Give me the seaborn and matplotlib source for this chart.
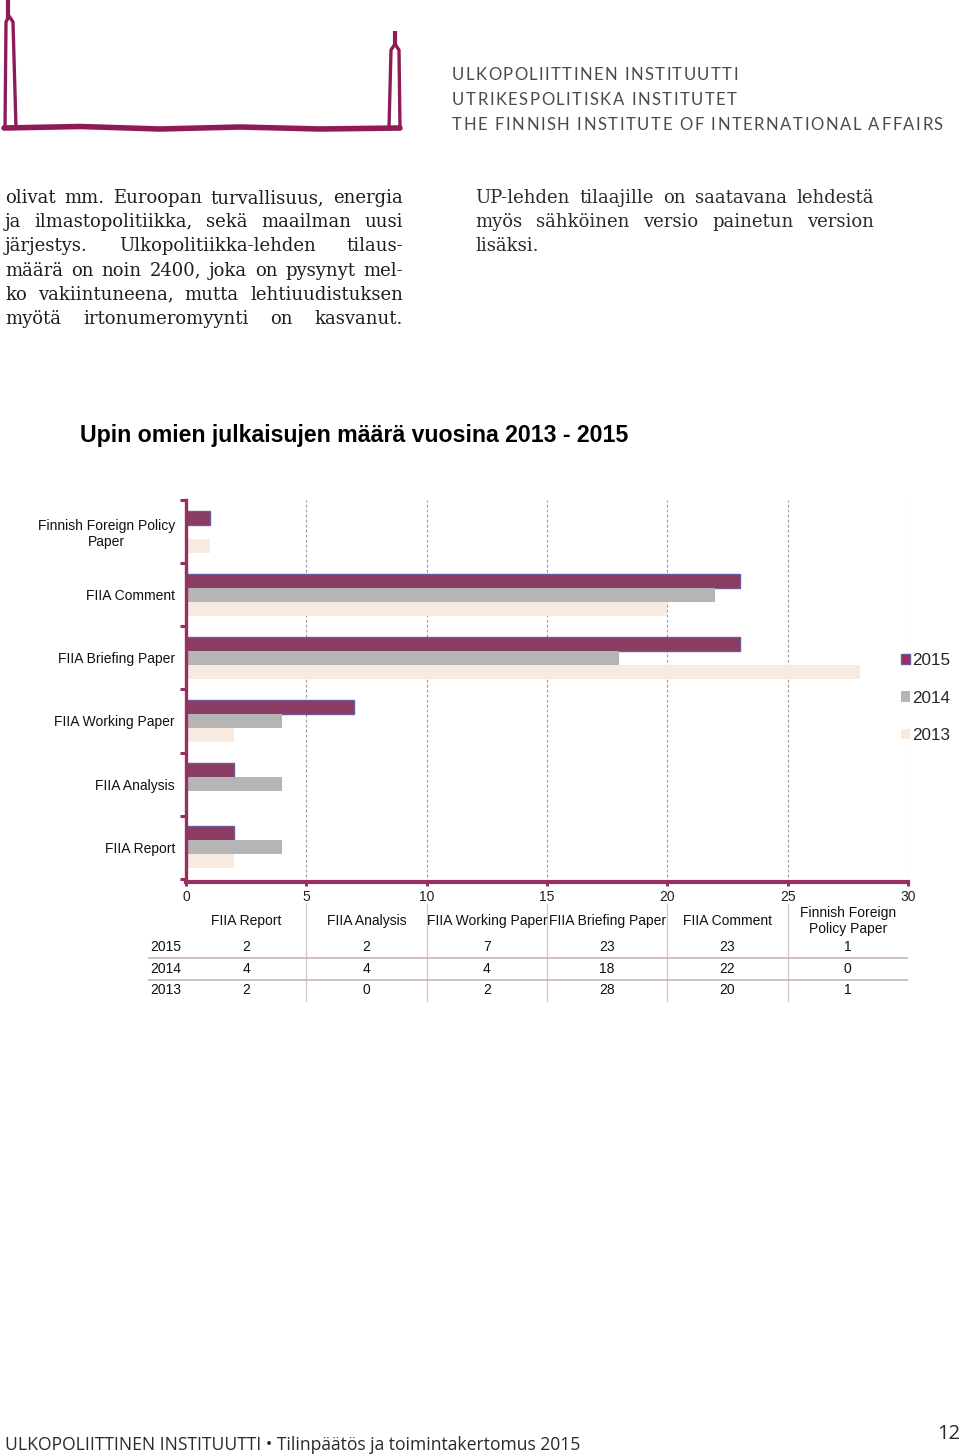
import matplotlib
matplotlib.use("Agg")
import matplotlib.pyplot as plt
from matplotlib.font_manager import FontProperties
from matplotlib.patches import Patch
import seaborn as sns
import pandas as pd

# ---------------- data ----------------
categories = ["FIIA Report", "FIIA Analysis", "FIIA Working Paper",
              "FIIA Briefing Paper", "FIIA Comment", "Finnish Foreign Policy Paper"]
chart_labels = ["FIIA Report", "FIIA Analysis", "FIIA Working Paper",
                "FIIA Briefing Paper", "FIIA Comment", "Finnish Foreign Policy\nPaper"]
table_headers = ["FIIA Report", "FIIA Analysis", "FIIA Working Paper",
                 "FIIA Briefing Paper", "FIIA Comment", "Finnish Foreign\nPolicy Paper"]
years = ["2015", "2014", "2013"]
v2015 = [2, 2, 7, 23, 23, 1]
v2014 = [4, 4, 4, 18, 22, 0]
v2013 = [2, 0, 2, 28, 20, 1]
x_ticks = [0, 5, 10, 15, 20, 25, 30]

title = "Upin omien julkaisujen määrä vuosina 2013 - 2015"
header_lines = ["ULKOPOLIITTINEN INSTITUUTTI", "UTRIKESPOLITISKA INSTITUTET",
                "THE FINNISH INSTITUTE OF INTERNATIONAL AFFAIRS"]
left_par = ["olivat mm. Euroopan turvallisuus, energia",
            "ja ilmastopolitiikka, sekä maailman uusi",
            "järjestys. Ulkopolitiikka-lehden tilaus-",
            "määrä on noin 2400, joka on pysynyt mel-",
            "ko vakiintuneena, mutta lehtiuudistuksen",
            "myötä irtonumeromyynti on kasvanut."]
right_par = ["UP-lehden tilaajille on saatavana lehdestä",
             "myös sähköinen versio painetun version",
             "lisäksi."]
footer = "ULKOPOLIITTINEN INSTITUUTTI • Tilinpäätös ja toimintakertomus 2015"
page_no = "12"

MAROON = "#982f62"
EDGE = "#6b5b9b"
GRAY = "#b5b5b5"
PEACH = "#fde9dc"
palette = [MAROON, GRAY, PEACH]

W, H = 960, 1455
sns.set_theme(style="white")
plt.rcParams["font.family"] = ["Liberation Sans", "DejaVu Sans"]

fig = plt.figure(figsize=(W / 100, H / 100), dpi=100)
renderer = fig.canvas.get_renderer()

def tw(s, fp):
    w, h, d = renderer.get_text_width_height_descent(s, fp, ismath=False)
    return w

# background axes in page pixel coordinates
bg = fig.add_axes([0, 0, 1, 1], zorder=0)
bg.set_xlim(0, W)
bg.set_ylim(H, 0)
bg.axis("off")

def justify(x0, x1, y, line, fp, color, full=True):
    words = line.split(" ")
    ws = [tw(w, fp) for w in words]
    if full and len(words) > 1:
        gap = (x1 - x0 - sum(ws)) / (len(words) - 1)
    else:
        gap = tw("a b", fp) - tw("ab", fp)
    x = x0
    for w, wd in zip(words, ws):
        bg.text(x, y, w, fontproperties=fp, color=color, va="baseline", ha="left")
        x += wd + gap

def spread(x0, x1, y, line, fp, color):
    chars = list(line)
    ws = [tw(c, fp) if c != " " else tw("a a", fp) - tw("aa", fp) for c in chars]
    gap = (x1 - x0 - sum(ws)) / (len(chars) - 1)
    x = x0
    for c, wd in zip(chars, ws):
        if c != " ":
            bg.text(x, y, c, fontproperties=fp, color=color, va="baseline", ha="left")
        x += wd + gap

# logo
lc = "#8e1b55"
bg.plot([8, 8], [0, 18], color=lc, lw=3, solid_capstyle="butt")
bg.plot([5, 6, 9, 13, 16, 5], [128, 22, 16, 22, 128, 128], color=lc, lw=2.4)
bg.plot([395, 395], [31, 44], color=lc, lw=3, solid_capstyle="butt")
bg.plot([389, 391, 395, 399, 400, 389], [128, 50, 44, 50, 128, 128], color=lc, lw=2.4)
bg.plot([4, 80, 160, 240, 320, 400], [128, 126.5, 129, 127, 129, 128], color=lc, lw=4)

hfp = FontProperties(family=["Lato", "DejaVu Sans"], weight="normal", size=12)
spread(452, 738, 80, header_lines[0], hfp, "#4a4a4a")
spread(452, 737, 105, header_lines[1], hfp, "#4a4a4a")
spread(452, 943, 130, header_lines[2], hfp, "#4a4a4a")

# body text
bfp = FontProperties(family=["DejaVu Serif"], size=13.0)
for i, line in enumerate(left_par):
    justify(5, 403, 203 + 24.2 * i, line, bfp, "#1e1e1e", full=True)
for i, line in enumerate(right_par):
    justify(475, 874, 203 + 24.2 * i, line, bfp, "#2a2a2a", full=(i < 2))

# title
tfp = FontProperties(family=["Liberation Sans", "DejaVu Sans"], weight="bold", size=16)
scale = (629 - 80) / tw(title, tfp)
tfp.set_size(16 * scale)
bg.text(80, 442, title, fontproperties=tfp, color="black", va="baseline", ha="left")

# footer
ffp = FontProperties(family=["Open Sans", "DejaVu Sans"], weight="normal", size=14)
fscale = (582 - 5) / tw(footer, ffp)
ffp.set_size(14 * fscale)
bg.text(5, 1450, footer, fontproperties=ffp, color="#2a2a2a", va="baseline", ha="left")
bg.text(960, 1439, page_no, fontproperties=FontProperties(family=["Open Sans", "DejaVu Sans"], size=14.5),
        color="#2a2a2a", va="baseline", ha="right")

# ---------------- chart ----------------
df = pd.DataFrame({
    "category": categories * 3,
    "year": ["2015"] * 6 + ["2014"] * 6 + ["2013"] * 6,
    "value": v2015 + v2014 + v2013,
})
order = categories[::-1]

ax = fig.add_axes([186 / W, 1 - 882 / H, 722 / W, 382 / H], zorder=2)
ax.patch.set_alpha(0)
sns.barplot(data=df, y="category", x="value", hue="year", hue_order=years,
            order=order, palette=palette, width=0.666, gap=0, linewidth=0,
            legend=False, ax=ax, orient="h")
for bar in ax.containers[0]:
    bar.set_edgecolor(EDGE)
    bar.set_linewidth(1.0)

ax.set_xlim(0, 30)
ax.set_ylim(5.55, -0.5)
ax.set_xticks(x_ticks)
ax.set_xticklabels([str(t) for t in x_ticks], fontsize=10, color="#222222")
ax.set_yticks(range(6))
ax.set_yticklabels(chart_labels[::-1], fontsize=10, color="#111111")
for lab in ax.get_yticklabels():
    lab.set_multialignment("center")
ax.set_yticks([i - 0.5 for i in range(7)], minor=True)
ax.tick_params(axis="y", which="major", length=0, pad=8)
ax.tick_params(axis="y", which="minor", length=4, width=2.2, color=MAROON, direction="out", left=True)
ax.tick_params(axis="x", which="major", length=3, width=2.2, color=MAROON, direction="out", pad=3, bottom=True)
ax.set_xlabel("")
ax.set_ylabel("")
for s in ["top", "right"]:
    ax.spines[s].set_visible(False)
ax.spines["left"].set_color(MAROON)
ax.spines["left"].set_linewidth(2.4)
ax.spines["bottom"].set_color(MAROON)
ax.spines["bottom"].set_linewidth(3)
ax.grid(axis="x", color="#9a9a9a", lw=0.8, linestyle=(0, (2.5, 2)))
ax.grid(axis="y", visible=False)
ax.set_axisbelow(True)

handles = [Patch(facecolor=MAROON, edgecolor=EDGE, linewidth=1.0, label="2015"),
           Patch(facecolor=GRAY, edgecolor="none", label="2014"),
           Patch(facecolor=PEACH, edgecolor="none", label="2013")]
leg = ax.legend(handles=handles, loc="center left", bbox_to_anchor=(894 / W, 1 - 698 / H),
                bbox_transform=fig.transFigure, frameon=True, facecolor="white",
                edgecolor="none", framealpha=1, fontsize=12.3, handlelength=0.55,
                handleheight=0.55, handletextpad=0.1, labelspacing=1.3,
                borderpad=0.4, borderaxespad=0)
leg.set_zorder(5)

# ---------------- data table ----------------
tax = fig.add_axes([186 / W, 1 - 1002 / H, 722 / W, 102 / H], zorder=2)
tax.set_xlim(0, 30)
tax.set_ylim(1002, 900)
tax.axis("off")
line_c = "#cbb3c0"
tax.vlines([5, 10, 15, 20, 25], 903, 1002, color="#d6c8d0", lw=1)
tax.hlines([958, 980], -1.58, 30, color=line_c, lw=1.2, clip_on=False)
row_y = [947, 969, 990]
for j, hdr in enumerate(table_headers):
    cx = 2.5 + 5 * j
    tax.text(cx, 921, hdr, ha="center", va="center", fontsize=10, color="#111111",
             multialignment="center", linespacing=1.15, clip_on=False)
row_vals = [v2015, v2014, v2013]
for yr, vals, yy in zip(years, row_vals, row_y):
    tax.text(-1.5, yy, yr, ha="left", va="center", fontsize=10, color="#111111", clip_on=False)
    for j, v in enumerate(vals):
        tax.text(2.5 + 5 * j, yy, str(v), ha="center", va="center", fontsize=10, color="#111111")

fig.savefig("out.png", dpi=100, facecolor="white")
